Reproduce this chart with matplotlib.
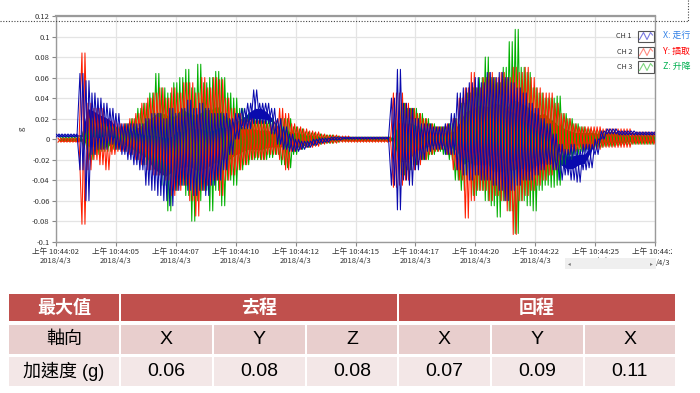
import numpy as np
import matplotlib
matplotlib.use("Agg")
import matplotlib.pyplot as plt
from matplotlib.patches import Rectangle
from matplotlib.lines import Line2D

plt.rcParams['font.family'] = ['Noto Sans CJK TC', 'DejaVu Sans']

# ---------------- data ----------------
t_start, t_step = 2.5, 0.25          # seconds after 10:44:00
tick_seconds = [2.5, 5.0, 7.5, 10.0, 12.5, 15.0, 17.5, 20.0, 22.5, 25.0, 27.5]
tick_labels = ["上午 10:44:02\n2018/4/3", "上午 10:44:05\n2018/4/3", "上午 10:44:07\n2018/4/3",
               "上午 10:44:10\n2018/4/3", "上午 10:44:12\n2018/4/3", "上午 10:44:15\n2018/4/3",
               "上午 10:44:17\n2018/4/3", "上午 10:44:20\n2018/4/3", "上午 10:44:22\n2018/4/3",
               "上午 10:44:25\n2018/4/3", "上午 10:44:27"]
last_date_tail = "/4/3"
y_ticks = [0.12, 0.1, 0.08, 0.06, 0.04, 0.02, 0, -0.02, -0.04, -0.06, -0.08, -0.1]
y_ticklabels = ["0.12", "0.1", "0.08", "0.06", "0.04", "0.02", "0", "-0.02", "-0.04", "-0.06", "-0.08", "-0.1"]

# per-0.25 s peak (hi) and trough (lo) values
green_hi = [0.002, 0.002, 0.002, 0.002,
            0.010, 0.020, 0.015, 0.015, 0.012, 0.012, 0.012, 0.015,
            0.020, 0.030, 0.035, 0.045, 0.064, 0.050, 0.045, 0.055,
            0.060, 0.068, 0.050, 0.073, 0.055, 0.060, 0.066, 0.060,
            0.045, 0.040, 0.030, 0.025, 0.020, 0.020, 0.018, 0.020,
            0.015, 0.020, 0.020, 0.012, 0.010, 0.007, 0.006, 0.005,
            0.004, 0.004, 0.003, 0.002, 0.002, 0.002, 0.002, 0.002,
            0.002, 0.002, 0.002, 0.002,
            0.020, 0.035, 0.030, 0.030, 0.025, 0.020, 0.015, 0.012,
            0.012, 0.015, 0.020, 0.035, 0.045, 0.050, 0.060, 0.080,
            0.060, 0.055, 0.070, 0.095, 0.107, 0.070, 0.065, 0.050,
            0.045, 0.040, 0.040, 0.042, 0.025, 0.020, 0.015, 0.012,
            0.010, 0.008, 0.008, 0.007, 0.007, 0.006, 0.005, 0.005,
            0.005, 0.005, 0.005, 0.005, 0.005]
green_lo = [-0.002, -0.002, -0.002, -0.002,
            -0.010, -0.020, -0.015, -0.012, -0.012, -0.010, -0.010, -0.012,
            -0.015, -0.020, -0.025, -0.030, -0.035, -0.045, -0.070, -0.050,
            -0.045, -0.055, -0.080, -0.060, -0.050, -0.070, -0.050, -0.065,
            -0.040, -0.045, -0.030, -0.025, -0.020, -0.020, -0.020, -0.018,
            -0.015, -0.025, -0.028, -0.015, -0.010, -0.008, -0.006, -0.005,
            -0.004, -0.004, -0.003, -0.002, -0.002, -0.002, -0.002, -0.002,
            -0.002, -0.002, -0.002, -0.002,
            -0.020, -0.035, -0.030, -0.025, -0.020, -0.020, -0.015, -0.012,
            -0.015, -0.020, -0.040, -0.050, -0.040, -0.055, -0.050, -0.060,
            -0.065, -0.076, -0.060, -0.070, -0.092, -0.060, -0.065, -0.070,
            -0.050, -0.045, -0.047, -0.045, -0.025, -0.020, -0.015, -0.012,
            -0.010, -0.008, -0.008, -0.007, -0.007, -0.006, -0.005, -0.005,
            -0.005, -0.005, -0.005, -0.005, -0.005]
red_hi = [0.001, 0.001, 0.001, 0.001,
          0.084, 0.035, 0.030, 0.030, 0.020, 0.018, 0.015, 0.015,
          0.020, 0.025, 0.035, 0.040, 0.045, 0.050, 0.040, 0.050,
          0.045, 0.055, 0.055, 0.045, 0.060, 0.050, 0.060, 0.058,
          0.040, 0.030, 0.025, 0.020, 0.020, 0.018, 0.018, 0.015,
          0.018, 0.030, 0.025, 0.015, 0.012, 0.010, 0.008, 0.007,
          0.005, 0.004, 0.004, 0.003, 0.003, 0.002, 0.002, 0.002,
          0.002, 0.002, 0.002, 0.002,
          0.045, 0.045, 0.035, 0.030, 0.025, 0.020, 0.015, 0.012,
          0.012, 0.015, 0.020, 0.040, 0.050, 0.065, 0.050, 0.060,
          0.065, 0.060, 0.065, 0.060, 0.070, 0.065, 0.070, 0.060,
          0.050, 0.045, 0.045, 0.035, 0.025, 0.020, 0.015, 0.012,
          0.012, 0.012, 0.012, 0.010, 0.010, 0.010, 0.010, 0.010,
          0.007, 0.007, 0.007, 0.007, 0.007]
red_lo = [-0.003, -0.003, -0.003, -0.003,
          -0.083, -0.030, -0.020, -0.025, -0.030, -0.015, -0.012, -0.012,
          -0.015, -0.020, -0.025, -0.030, -0.035, -0.035, -0.040, -0.055,
          -0.050, -0.045, -0.060, -0.075, -0.050, -0.045, -0.040, -0.055,
          -0.040, -0.035, -0.030, -0.025, -0.020, -0.018, -0.020, -0.015,
          -0.015, -0.020, -0.030, -0.012, -0.010, -0.008, -0.008, -0.007,
          -0.005, -0.004, -0.004, -0.003, -0.003, -0.003, -0.003, -0.003,
          -0.003, -0.003, -0.003, -0.003,
          -0.047, -0.045, -0.040, -0.030, -0.025, -0.020, -0.015, -0.012,
          -0.010, -0.015, -0.030, -0.040, -0.077, -0.060, -0.050, -0.050,
          -0.060, -0.055, -0.060, -0.070, -0.093, -0.060, -0.055, -0.050,
          -0.045, -0.040, -0.035, -0.030, -0.020, -0.015, -0.012, -0.010,
          -0.010, -0.010, -0.010, -0.008, -0.008, -0.008, -0.008, -0.008,
          -0.005, -0.005, -0.005, -0.005, -0.005]
blue_hi = [0.005, 0.005, 0.005, 0.005,
           0.064, 0.057, 0.045, 0.040, 0.035, 0.030, 0.025, 0.015,
           0.015, 0.015, 0.015, 0.020, 0.025, 0.025, 0.020, 0.030,
           0.025, 0.030, 0.038, 0.030, 0.035, 0.030, 0.025, 0.025,
           0.025, 0.020, 0.025, 0.030, 0.035, 0.048, 0.035, 0.035,
           0.030, 0.020, 0.012, 0.005, 0.000, -0.002, -0.002, 0.000,
           0.001, 0.001, 0.002, 0.002, 0.002, 0.002, 0.002, 0.002,
           0.002, 0.002, 0.002, 0.002,
           0.040, 0.068, 0.035, 0.030, 0.020, 0.015, 0.015, 0.012,
           0.012, 0.015, 0.025, 0.045, 0.050, 0.055, 0.060, 0.055,
           0.065, 0.060, 0.065, 0.060, 0.055, 0.050, 0.045, 0.035,
           0.030, 0.020, 0.015, 0.005, -0.005, -0.010, -0.005, -0.010,
           -0.005, -0.005, 0.000, 0.008, 0.010, 0.010, 0.008, 0.008,
           0.008, 0.007, 0.007, 0.007, 0.007]
blue_lo = [0.002, 0.002, 0.002, 0.002,
           -0.030, -0.060, -0.015, -0.010, -0.010, -0.005, -0.010, -0.015,
           -0.020, -0.025, -0.030, -0.045, -0.050, -0.055, -0.060, -0.065,
           -0.050, -0.045, -0.050, -0.055, -0.050, -0.055, -0.045, -0.040,
           -0.030, -0.015, 0.000, 0.010, 0.010, 0.015, 0.015, 0.015,
           0.005, -0.005, -0.010, -0.012, -0.012, -0.010, -0.008, -0.006,
           -0.004, -0.003, -0.001, -0.001, 0.000, 0.000, 0.000, 0.000,
           0.000, 0.000, 0.000, 0.000,
           -0.045, -0.069, -0.040, -0.045, -0.030, -0.020, -0.012, -0.010,
           -0.010, -0.015, -0.015, -0.030, -0.035, -0.040, -0.035, -0.040,
           -0.040, -0.045, -0.050, -0.060, -0.050, -0.045, -0.040, -0.040,
           -0.035, -0.030, -0.025, -0.030, -0.040, -0.035, -0.040, -0.042,
           -0.030, -0.028, -0.015, 0.000, 0.005, 0.005, 0.004, 0.004,
           0.004, 0.004, 0.004, 0.004, 0.004]

channel_names = ["CH 1", "CH 2", "CH 3"]
axis_names = ["X: 走行", "Y: 插取", "Z: 升降"]

table_header = ["最大值", "去程", "回程"]
row_axis_label = "軸向"
row_axes = ["X", "Y", "Z", "X", "Y", "X"]
row_acc_label = "加速度 (g)"
row_acc = [0.06, 0.08, 0.08, 0.07, 0.09, 0.11]

# ---------------- figure ----------------
W, H = 700, 393
fig = plt.figure(figsize=(W / 100, H / 100), dpi=100)
fig.patch.set_facecolor("white")

def fx(px):
    return px / W

def fy(py):
    return 1 - py / H

ax_l, ax_r, ax_t, ax_b = 56, 655, 16, 241.7
ax = fig.add_axes([fx(ax_l), fy(ax_b), fx(ax_r) - fx(ax_l), fy(ax_t) - fy(ax_b)])

def times(n):
    return t_start + t_step * np.arange(n)

def zigzag(first, second, off):
    n = len(first)
    tt = times(n) + off
    xs = np.empty(2 * n)
    ys = np.empty(2 * n)
    xs[0::2] = tt
    xs[1::2] = tt + t_step / 2
    ys[0::2] = first
    ys[1::2] = second
    return xs, ys

def core(hi, lo, k=0.5):
    # dense body of the trace: the smaller of neighbouring peaks
    hp = np.pad(np.asarray(hi), 1, mode="edge")
    lp = np.pad(np.asarray(lo), 1, mode="edge")
    ch = np.minimum(np.minimum(hp[:-2], hp[1:-1]), hp[2:])
    cl = np.maximum(np.maximum(lp[:-2], lp[1:-1]), lp[2:])
    mid = (ch + cl) / 2
    return mid + (ch - mid) * k, mid + (cl - mid) * k

c_blue, c_red, c_green = "#0A0AAE", "#FF1E00", "#00B000"
chans = [(green_hi, green_lo, c_green, 2 * t_step / 3),
         (red_hi, red_lo, c_red, t_step / 3),
         (blue_hi, blue_lo, c_blue, 0.0)]

for hi, lo, c, off in chans:
    ch, cl = core(hi, lo)
    tt = times(len(hi)) + off + t_step / 4
    ax.fill_between(tt, cl, ch, color=c, lw=0, zorder=2)
for hi, lo, c, off in chans:
    xs, ys = zigzag(hi, lo, off)
    ax.plot(xs, ys, color=c, lw=0.75, zorder=3)
    xs, ys = zigzag(lo, hi, off)
    ax.plot(xs, ys, color=c, lw=0.75, zorder=3)

ax.set_xlim(tick_seconds[0], tick_seconds[-1])
ax.set_ylim(-0.1, 0.12)
ax.set_xticks(tick_seconds)
ax.set_xticklabels(tick_labels, fontsize=5.5, color="#333333", linespacing=1.1, va="top")
ax.set_yticks(y_ticks)
ax.set_yticklabels(y_ticklabels, fontsize=5.5, color="#333333")
ax.grid(True, color="#E4E4E4", lw=0.9)
ax.set_axisbelow(True)
ax.tick_params(length=3, width=0.8, color="#888888", pad=1.5)
for s in ax.spines.values():
    s.set_color("#9A9A9A")
    s.set_linewidth(1.0)
ax.spines["top"].set_linewidth(1.6)
ax.set_ylabel("g", fontsize=5.5, color="#333333", labelpad=5)

# clip last x tick label at the widget edge
last = ax.get_xticklabels()[-1]
clip_rect = Rectangle((0, 0), 672, H, transform=None)
last.set_clip_path(clip_rect)
last.set_clip_on(True)
fig.text(fx(656), fy(263.5), last_date_tail, fontsize=5.5, color="#333333",
         ha="left", va="center")

# scrollbar widget
fig.add_artist(Rectangle((fx(565), fy(269)), fx(656) - fx(565), fy(258) - fy(269),
                         facecolor="#EFEFEF", edgecolor="none", zorder=5))
fig.text(fx(569), fy(263.5), "◂", fontsize=4, color="#777777", va="center", ha="center",
         family=["DejaVu Sans"], zorder=6)
fig.text(fx(651), fy(263.5), "▸", fontsize=4, color="#777777", va="center", ha="center",
         family=["DejaVu Sans"], zorder=6)

# legend
leg_y = [36, 52, 67]
leg_line_colors = ["#7878E0", "#FF8A80", "#7CD67C"]
axis_colors = ["#2F7FE6", "#FF0000", "#00B050"]
for i in range(3):
    yc = leg_y[i]
    fig.text(fx(632), fy(yc), channel_names[i], fontsize=5.2, color="#333333",
             ha="right", va="center")
    fig.add_artist(Rectangle((fx(637.5), fy(yc + 5.5)), fx(654) - fx(637.5), fy(yc - 5.5) - fy(yc + 5.5),
                             facecolor="white", edgecolor="#555555", lw=0.8, zorder=4))
    zx = [639.5, 643.5, 647, 650.5, 652.5]
    zy = [yc + 3.5, yc - 3.5, yc + 3.5, yc - 3.5, yc - 1]
    fig.add_artist(Line2D([fx(v) for v in zx], [fy(v) for v in zy], color=leg_line_colors[i],
                          lw=0.8, zorder=5))
    fig.text(fx(663), fy(yc - 0.5), axis_names[i], fontsize=6.4, color=axis_colors[i],
             ha="left", va="center")

# dotted selection outline
fig.add_artist(Line2D([fx(0), fx(688)], [fy(20.5), fy(20.5)], color="#444444", lw=0.8,
                      ls=(0, (1, 1.5)), zorder=6))
fig.add_artist(Line2D([fx(688), fx(688)], [fy(0), fy(20.5)], color="#444444", lw=0.8,
                      ls=(0, (1, 1.5)), zorder=6))

# ---------------- table ----------------
col_edges = [8, 120, 213, 306, 398, 491, 584, 676]
rows = [(293, 322), (324, 355), (356, 387)]
c_head, c_row2, c_row3 = "#C0504D", "#E8CECD", "#F3E7E7"
gap = 1.0

def cell(x0, x1, y0, y1, color):
    fig.add_artist(Rectangle((fx(x0 + gap), fy(y1 - gap)), fx(x1 - gap) - fx(x0 + gap),
                             fy(y0 + gap) - fy(y1 - gap), facecolor=color, edgecolor="none"))

# header
y0, y1 = rows[0]
cell(col_edges[0], col_edges[1], y0, y1, c_head)
cell(col_edges[1], col_edges[4], y0, y1, c_head)
cell(col_edges[4], col_edges[7], y0, y1, c_head)
hdr_pos = [(col_edges[0] + col_edges[1]) / 2, (col_edges[1] + col_edges[4]) / 2,
           (col_edges[4] + col_edges[7]) / 2]
for txt, xc in zip(table_header, hdr_pos):
    fig.text(fx(xc), fy((y0 + y1) / 2), txt, fontsize=13, color="white", fontweight="bold",
             ha="center", va="center", family=["Noto Sans CJK TC"])

latin = ["Liberation Sans", "Noto Sans CJK TC"]
for (y0, y1), color, label, vals in [(rows[1], c_row2, row_axis_label, row_axes),
                                     (rows[2], c_row3, row_acc_label, [f"{v:.2f}" for v in row_acc])]:
    for j in range(7):
        cell(col_edges[j], col_edges[j + 1], y0, y1, color)
    yc = fy((y0 + y1) / 2)
    fig.text(fx((col_edges[0] + col_edges[1]) / 2), yc, label, fontsize=13, color="black",
             ha="center", va="center", family=latin)
    for j, v in enumerate(vals):
        fig.text(fx((col_edges[j + 1] + col_edges[j + 2]) / 2), yc, v, fontsize=14, color="black",
                 ha="center", va="center", family=latin)

fig.savefig("out.png", dpi=100)
